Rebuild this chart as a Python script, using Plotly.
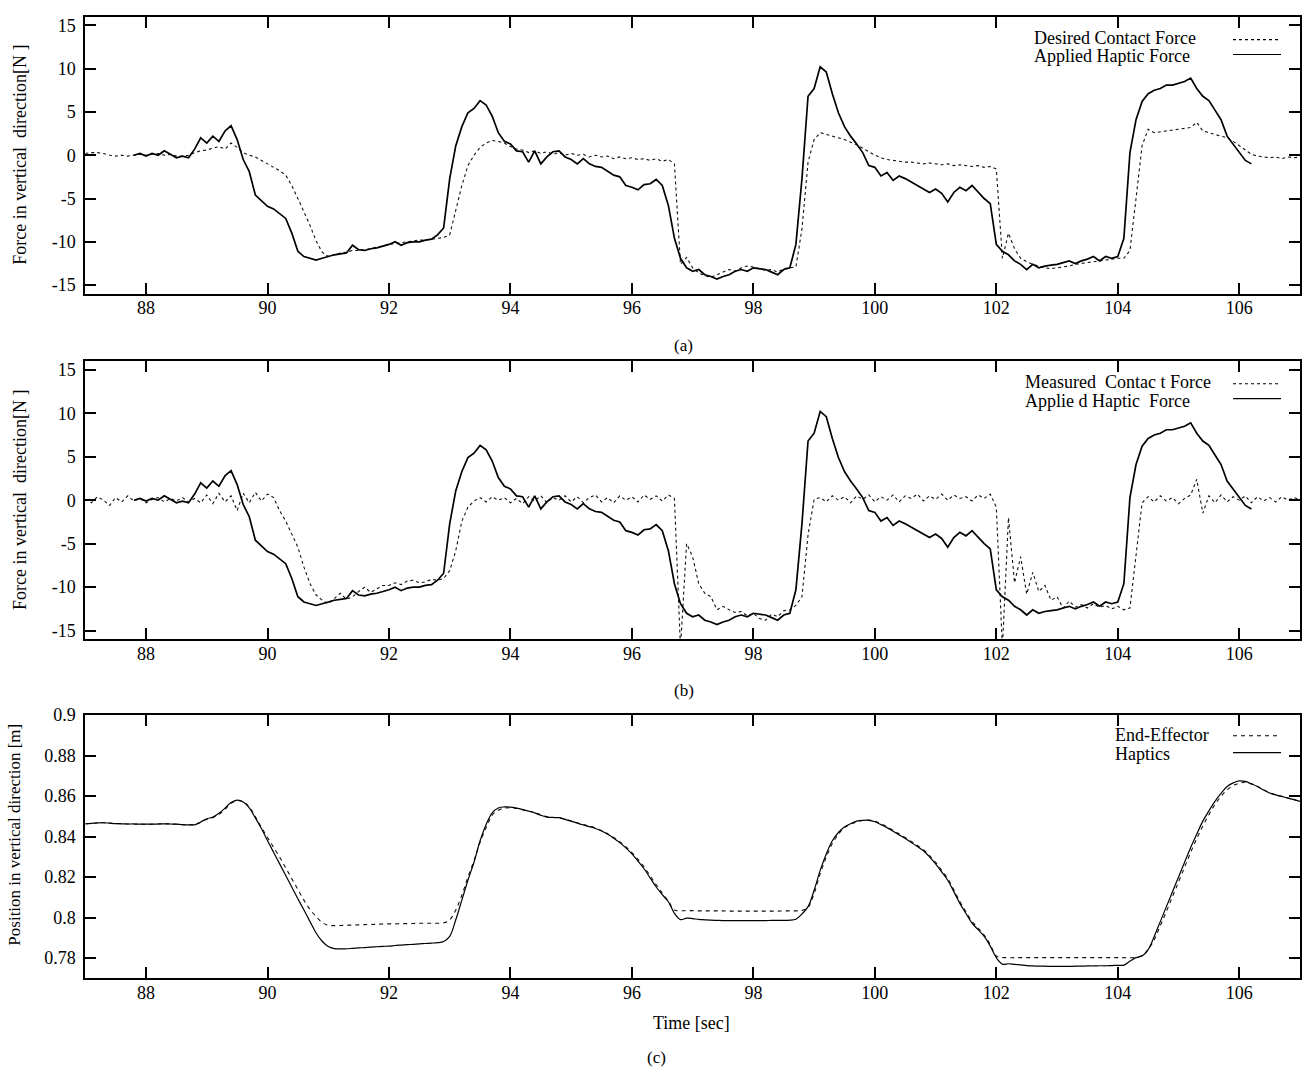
import plotly.graph_objects as go

# ---------------- data ----------------
TIME = [round(87 + 0.1 * i, 1) for i in range(201)]

DESIRED_FORCE = [
    0.2, 0.3, 0.3, 0.2, 0.0, -0.1, 0.0, -0.1, 0.0, 0.1,
    0.0, 0.1, 0.2, 0.0, 0.1, -0.1, -0.1, 0.0, 0.3, 0.5,
    0.6, 0.8, 1.0, 0.7, 1.4, 0.9, 0.3, 0.0, -0.2, -0.6,
    -1.0, -1.4, -1.8, -2.3, -3.5, -5.0, -6.5, -8.1, -9.9, -11.2,
    -11.7, -11.5, -11.3, -11.2, -11.0, -11.0, -10.9, -10.8, -10.6, -10.5,
    -10.3, -10.2, -10.1, -10.0, -9.9, -9.8, -9.8, -9.7, -9.6, -9.5,
    -9.2, -6.5, -3.5, -1.2, 0.0, 0.9, 1.4, 1.7, 1.6, 1.4,
    1.0, 0.7, 0.6, 0.3, 0.5, 0.2, 0.4, 0.1, 0.3, 0.0,
    0.2, 0.0, 0.1, -0.2, 0.0, -0.2, -0.1, -0.4, -0.2, -0.4,
    -0.3, -0.5, -0.4, -0.6, -0.4, -0.7, -0.5, -1.0, -12.6, -11.8,
    -13.0, -13.6, -13.9, -14.1, -13.8, -13.5, -13.2, -13.4, -13.0, -12.8,
    -12.9, -13.1, -13.3, -13.2, -13.5, -13.1, -13.0, -12.9, -8.5, -0.8,
    1.8, 2.6, 2.4, 2.2, 2.0, 1.8, 1.5, 1.2, 0.8, 0.4,
    0.0, -0.3, -0.5, -0.6, -0.7, -0.8, -0.8, -0.9, -1.0, -0.9,
    -1.0, -1.1, -1.0, -1.2, -1.1, -1.2, -1.3, -1.2, -1.4, -1.3,
    -1.6, -11.9, -9.0, -10.8, -11.9, -12.3, -12.6, -12.8, -13.0, -13.1,
    -13.0, -12.9, -12.8, -12.6, -12.5, -12.4, -12.3, -12.2, -12.1, -12.0,
    -11.9, -11.9, -11.0, -5.0, 1.1, 3.0, 2.6, 2.7, 2.8, 2.9,
    3.0, 3.1, 3.2, 3.8, 2.8, 2.6, 2.4, 2.2, 2.0, 1.6,
    1.1, 0.5, 0.1, -0.1, -0.2, -0.3, -0.2, -0.4, -0.2, -0.3,
    -0.2,
]

HAPTIC_FORCE = [
    None, None, None, None, None, None, None, None, 0.0, 0.2,
    -0.1, 0.2, 0.0, 0.5, 0.1, -0.3, -0.1, -0.3, 0.7, 2.0,
    1.4, 2.2, 1.6, 2.8, 3.4, 1.8, -0.5, -1.9, -4.6, -5.3,
    -5.9, -6.2, -6.7, -7.3, -9.0, -11.1, -11.7, -11.9, -12.1, -11.9,
    -11.7, -11.5, -11.4, -11.3, -10.4, -10.9, -11.0, -10.8, -10.7, -10.5,
    -10.3, -10.0, -10.4, -10.1, -10.0, -10.0, -9.8, -9.7, -9.2, -8.4,
    -2.7, 1.1, 3.3, 4.9, 5.4, 6.3, 5.8, 4.5, 2.6, 1.6,
    1.3, 0.5, 0.4, -0.8, 0.5, -1.0, -0.2, 0.4, 0.5, -0.2,
    -0.5, -1.0, -0.4, -1.0, -1.3, -1.4, -1.9, -2.3, -2.5, -3.5,
    -3.7, -4.0, -3.4, -3.3, -2.8, -3.5, -5.8, -9.6, -11.9, -13.0,
    -13.4, -13.2, -13.8, -14.0, -14.3, -14.0, -13.8, -13.4, -13.2, -13.4,
    -13.0, -13.1, -13.2, -13.5, -13.8, -13.2, -13.0, -10.3, -2.7, 6.8,
    7.7, 10.2, 9.6, 7.1, 4.9, 3.3, 2.2, 1.3, 0.3, -1.2,
    -1.4, -2.4, -2.0, -2.9, -2.4, -2.7, -3.1, -3.5, -3.9, -4.3,
    -3.9, -4.4, -5.4, -4.3, -3.7, -4.1, -3.5, -4.3, -5.0, -5.6,
    -10.3, -11.1, -11.5, -12.2, -12.6, -13.2, -12.6, -13.0, -12.8, -12.7,
    -12.6, -12.4, -12.2, -12.5, -12.2, -12.0, -11.7, -12.2, -11.7, -11.9,
    -11.7, -9.6, 0.3, 4.1, 6.2, 7.1, 7.5, 7.7, 8.1, 8.1,
    8.3, 8.5, 8.9, 7.7, 6.8, 6.3, 5.2, 4.1, 2.2, 1.3,
    0.3, -0.6, -1.0, None, None, None, None, None, None, None,
    None,
]

MEASURED_FORCE = [
    0.1, -0.3, 0.4, 0.0, -0.6, 0.3, -0.2, 0.5, -0.1, 0.2,
    -0.3, 0.1, 0.3, -0.2, 0.2, -0.1, 0.3, -0.2, 0.2, -0.3,
    0.6, -0.4, 0.8, -0.2, 0.5, -1.2, 0.8, -0.3, 0.9, -0.1,
    0.7, 0.3, -1.2, -2.4, -3.9, -5.4, -7.7, -9.6, -10.9, -11.5,
    -11.9, -11.3, -10.7, -11.4, -11.1, -10.5, -10.0, -10.6, -10.2, -9.8,
    -9.8, -9.5, -9.7, -9.3, -9.2, -9.5, -9.4, -9.1, -9.2, -9.0,
    -8.1, -5.8, -2.4, -0.8, -0.1, 0.3, -0.2, 0.4, 0.0, 0.3,
    -0.3, 0.2, -0.4, 0.4, -0.1, 0.5, -0.3, 0.3, 0.0, 0.5,
    -0.2, 0.4, -0.3, 0.3, 0.6, -0.2, 0.3, -0.3, 0.5, 0.0,
    0.4, -0.2, 0.6, 0.1, 0.5, -0.1, 0.6, 0.2, -17.0, -5.0,
    -6.5, -9.6, -10.7, -11.1, -12.6, -12.2, -12.6, -12.9, -12.8, -13.3,
    -13.0, -13.6, -13.8, -13.1, -13.4, -12.7, -12.6, -12.1, -11.1, -4.0,
    0.1, 0.3, -0.2, 0.5, 0.0, 0.4, -0.3, 0.5, 0.1, 0.6,
    -0.2, 0.4, 0.0, 0.6, -0.2, 0.5, 0.2, 0.7, -0.1, 0.5,
    0.1, 0.7, 0.0, 0.6, 0.2, 0.4, -0.1, 0.6, 0.2, 0.7,
    -0.8, -17.0, -2.0, -9.5, -6.5, -10.8, -8.3, -10.5, -9.8, -11.5,
    -11.1, -12.4, -11.6, -12.3, -12.0, -12.4, -11.9, -12.3, -12.1, -12.5,
    -12.2, -12.6, -12.4, -6.5, -0.3, 0.4, -0.2, 0.5, -0.1, 0.3,
    -0.4, 0.2, 0.6, 2.4, -1.5, 0.5, -0.3, 0.6, -0.2, 0.4,
    0.0, 0.5, -0.3, 0.4, -0.1, 0.3, -0.2, 0.4, 0.0, 0.3,
    0.1,
]

HAPTIC_POS = [
    0.8463, 0.8465, 0.8467, 0.8468, 0.8466, 0.8464, 0.8463, 0.8462, 0.8462, 0.8461,
    0.8461, 0.8461, 0.8462, 0.8463, 0.8462, 0.8461, 0.8459, 0.8458, 0.8458, 0.8472,
    0.8488, 0.8496, 0.8515, 0.8540, 0.8568, 0.8580, 0.8571, 0.8542, 0.8492, 0.8440,
    0.8380, 0.8322, 0.8265, 0.8208, 0.8150, 0.8093, 0.8037, 0.7980, 0.7924, 0.7883,
    0.7857, 0.7847, 0.7845, 0.7846, 0.7848, 0.7850, 0.7852, 0.7854, 0.7856, 0.7858,
    0.7859, 0.7862, 0.7864, 0.7866, 0.7868, 0.7870, 0.7872, 0.7874, 0.7876, 0.7882,
    0.7907, 0.7989, 0.8086, 0.8184, 0.8273, 0.8379, 0.8460, 0.8517, 0.8541, 0.8546,
    0.8545, 0.8540, 0.8533, 0.8525, 0.8517, 0.8505, 0.8496, 0.8494, 0.8493, 0.8485,
    0.8476, 0.8466, 0.8457, 0.8449, 0.8440, 0.8427, 0.8411, 0.8392, 0.8370, 0.8344,
    0.8314, 0.8279, 0.8241, 0.8196, 0.8151, 0.8113, 0.8078, 0.8021, 0.7990, 0.7997,
    0.7995, 0.7991, 0.7989, 0.7987, 0.7986, 0.7985, 0.7985, 0.7985, 0.7985, 0.7985,
    0.7985, 0.7985, 0.7985, 0.7986, 0.7986, 0.7986, 0.7987, 0.7992, 0.8018, 0.8054,
    0.8135, 0.8233, 0.8314, 0.8379, 0.8420, 0.8447, 0.8463, 0.8476, 0.8480, 0.8480,
    0.8473, 0.8459, 0.8444, 0.8426, 0.8408, 0.8390, 0.8371, 0.8351, 0.8330, 0.8300,
    0.8265, 0.8226, 0.8184, 0.8128, 0.8070, 0.8020, 0.7972, 0.7940, 0.7907, 0.7859,
    0.7802, 0.7770, 0.7772, 0.7769, 0.7766, 0.7763, 0.7761, 0.7760, 0.7760, 0.7759,
    0.7759, 0.7759, 0.7759, 0.7760, 0.7760, 0.7761, 0.7761, 0.7762, 0.7762, 0.7763,
    0.7764, 0.7765, 0.7785, 0.7802, 0.7810, 0.7842, 0.7907, 0.7980, 0.8054, 0.8127,
    0.8200, 0.8273, 0.8346, 0.8412, 0.8476, 0.8527, 0.8574, 0.8613, 0.8647, 0.8665,
    0.8675, 0.8672, 0.8660, 0.8647, 0.8630, 0.8615, 0.8606, 0.8598, 0.8590, 0.8582,
    0.8574,
]

EE_POS = [
    0.8463, 0.8465, 0.8467, 0.8468, 0.8466, 0.8464, 0.8463, 0.8462, 0.8462, 0.8461,
    0.8461, 0.8461, 0.8462, 0.8463, 0.8462, 0.8461, 0.8459, 0.8458, 0.8459, 0.8470,
    0.8485, 0.8494, 0.8510, 0.8535, 0.8564, 0.8578, 0.8572, 0.8546, 0.8498, 0.8445,
    0.8395, 0.8347, 0.8298, 0.8245, 0.8192, 0.8139, 0.8086, 0.8040, 0.8005, 0.7976,
    0.7962, 0.7960, 0.7961, 0.7962, 0.7963, 0.7964, 0.7965, 0.7966, 0.7967, 0.7968,
    0.7969, 0.7969, 0.7970, 0.7970, 0.7971, 0.7972, 0.7972, 0.7972, 0.7972, 0.7974,
    0.7989, 0.8037, 0.8111, 0.8200, 0.8281, 0.8371, 0.8444, 0.8506, 0.8530, 0.8540,
    0.8542, 0.8539, 0.8533, 0.8526, 0.8518, 0.8507, 0.8498, 0.8495, 0.8493, 0.8486,
    0.8477, 0.8468, 0.8459, 0.8451, 0.8442, 0.8430, 0.8414, 0.8396, 0.8375, 0.8350,
    0.8321, 0.8287, 0.8250, 0.8206, 0.8162, 0.8120, 0.8082, 0.8037, 0.8034, 0.8034,
    0.8034, 0.8033, 0.8033, 0.8033, 0.8033, 0.8033, 0.8032, 0.8032, 0.8032, 0.8032,
    0.8032, 0.8032, 0.8032, 0.8032, 0.8032, 0.8033, 0.8033, 0.8033, 0.8035, 0.8050,
    0.8119, 0.8217, 0.8298, 0.8366, 0.8411, 0.8444, 0.8460, 0.8473, 0.8479, 0.8481,
    0.8476, 0.8463, 0.8448, 0.8431, 0.8413, 0.8395, 0.8376, 0.8356, 0.8335, 0.8306,
    0.8272, 0.8233, 0.8192, 0.8137, 0.8079, 0.8029, 0.7981, 0.7948, 0.7913, 0.7866,
    0.7810, 0.7803, 0.7802, 0.7802, 0.7802, 0.7802, 0.7802, 0.7802, 0.7802, 0.7802,
    0.7802, 0.7802, 0.7802, 0.7802, 0.7802, 0.7802, 0.7802, 0.7802, 0.7802, 0.7802,
    0.7802, 0.7802, 0.7802, 0.7803, 0.7813, 0.7842, 0.7891, 0.7960, 0.8030, 0.8103,
    0.8176, 0.8249, 0.8322, 0.8390, 0.8452, 0.8508, 0.8558, 0.8598, 0.8631, 0.8652,
    0.8663, 0.8668, 0.8660, 0.8647, 0.8630, 0.8615, 0.8606, 0.8598, 0.8590, 0.8582,
    0.8574,
]

X_TICKS = [88, 90, 92, 94, 96, 98, 100, 102, 104, 106]
F_TICKS = [-15, -10, -5, 0, 5, 10, 15]
F_TICK_TEXT = ["-15", "-10", "-5", "0", "5", "10", "15"]
P_TICKS = [0.78, 0.80, 0.82, 0.84, 0.86, 0.88, 0.90]
P_TICK_TEXT = ["0.78", "0.8", "0.82", "0.84", "0.86", "0.88", "0.9"]

# ---------------- layout helpers ----------------
W, H = 1302, 1071
FONT = "Liberation Serif, Times New Roman, serif"


def px_x(x):
    return x / W


def px_y(y):
    return 1 - y / H


XDOM = [px_x(85.3), px_x(1300)]
DOM_A = [px_y(287), px_y(6.7)]
DOM_B = [px_y(636.5), px_y(355)]
DOM_C = [px_y(979.3), px_y(713)]

fig = go.Figure()

solid = dict(color="#000000", width=1.7)
dashed = dict(color="#111111", width=1.1, dash="3px,3px")

# panel (a)
fig.add_trace(go.Scatter(x=TIME, y=DESIRED_FORCE, mode="lines", line=dashed,
                         xaxis="x", yaxis="y", showlegend=False))
fig.add_trace(go.Scatter(x=TIME, y=HAPTIC_FORCE, mode="lines", line=solid,
                         xaxis="x", yaxis="y", showlegend=False))
# panel (b)
fig.add_trace(go.Scatter(x=TIME, y=MEASURED_FORCE, mode="lines", line=dashed,
                         xaxis="x2", yaxis="y2", showlegend=False))
fig.add_trace(go.Scatter(x=TIME, y=HAPTIC_FORCE, mode="lines", line=solid,
                         xaxis="x2", yaxis="y2", showlegend=False))
# panel (c)
fig.add_trace(go.Scatter(x=TIME, y=EE_POS, mode="lines", line_shape="spline",
                         line=dict(color="#111111", width=1.1, dash="4px,4px"),
                         xaxis="x3", yaxis="y3", showlegend=False))
fig.add_trace(go.Scatter(x=TIME, y=HAPTIC_POS, mode="lines", line_shape="spline",
                         line=dict(color="#000000", width=1.2),
                         xaxis="x3", yaxis="y3", showlegend=False))

tickfont = dict(family=FONT, size=18, color="black")
xcommon = dict(range=[87, 107], tickvals=X_TICKS, ticks="inside", ticklen=11,
               tickwidth=1.5, tickcolor="black", showline=True, linecolor="black",
               linewidth=2, mirror="ticks", showgrid=False, zeroline=False,
               tickfont=tickfont, domain=XDOM, ticklabelstandoff=-3)
ycommon = dict(ticks="inside", ticklen=11, tickwidth=1.5, tickcolor="black",
               showline=True, linecolor="black", linewidth=2, mirror="ticks",
               showgrid=False, zeroline=False, tickfont=tickfont, ticklabelstandoff=4)

fig.update_layout(
    width=W, height=H,
    margin=dict(l=0, r=0, t=0, b=0),
    paper_bgcolor="white", plot_bgcolor="white",
    font=dict(family=FONT, size=18, color="black"),
    xaxis=dict(**xcommon, anchor="y"),
    yaxis=dict(**ycommon, range=[-16, 16], tickvals=F_TICKS, ticktext=F_TICK_TEXT,
               domain=DOM_A, anchor="x"),
    xaxis2=dict(**xcommon, anchor="y2"),
    yaxis2=dict(**ycommon, range=[-16, 16], tickvals=F_TICKS, ticktext=F_TICK_TEXT,
                domain=DOM_B, anchor="x2"),
    xaxis3=dict(**xcommon, anchor="y3"),
    yaxis3=dict(**ycommon, range=[0.77, 0.9], tickvals=P_TICKS, ticktext=P_TICK_TEXT,
                domain=DOM_C, anchor="x3"),
)

ann = []


def text(x, y, s, size=18, angle=0, xanchor="center"):
    ann.append(dict(x=px_x(x), y=px_y(y), xref="paper", yref="paper", text=s,
                    showarrow=False, textangle=angle, xanchor=xanchor,
                    yanchor="middle", font=dict(family=FONT, size=size, color="black")))


text(20.5, 147, "Force in vertical\u00a0 direction[N\u00a0]", angle=-90)
text(20.5, 496, "Force in vertical\u00a0 direction[N\u00a0]", angle=-90)
text(15, 834, "Position in vertical direction [m]", size=17, angle=-90)
text(684, 339, "(a)", size=17)
text(684, 688, "(b)", size=17)
text(691, 1024, "Time [sec]", size=18)
text(656, 1059, "(c)", size=17)

# legends (gnuplot style: text then sample)
text(1032, 28, "Desired Contact Force", xanchor="left")
text(1032, 47, "Applied Haptic Force", xanchor="left")
text(1023, 376, "Measured\u00a0 Contac t Force", xanchor="left")
text(1023, 395, "Applie d Haptic\u00a0 Force", xanchor="left")
text(1113, 733, "End-Effector", xanchor="left")
text(1113, 752, "Haptics", xanchor="left")

shapes = []


def sample(y, dash):
    shapes.append(dict(type="line", xref="paper", yref="paper",
                       x0=px_x(1233), x1=px_x(1281), y0=px_y(y), y1=px_y(y),
                       line=dict(color="black", width=1.2 if dash == "solid" else 1.1,
                                 dash=dash)))


sample(30, "3px,3px")
sample(45, "solid")
sample(378, "3px,3px")
sample(393, "solid")
sample(734, "4px,4px")
sample(751, "solid")

fig.update_layout(annotations=ann, shapes=shapes)

fig.write_html("out.html", config={"displayModeBar": False},
               post_script="document.body.style.margin='0';")
